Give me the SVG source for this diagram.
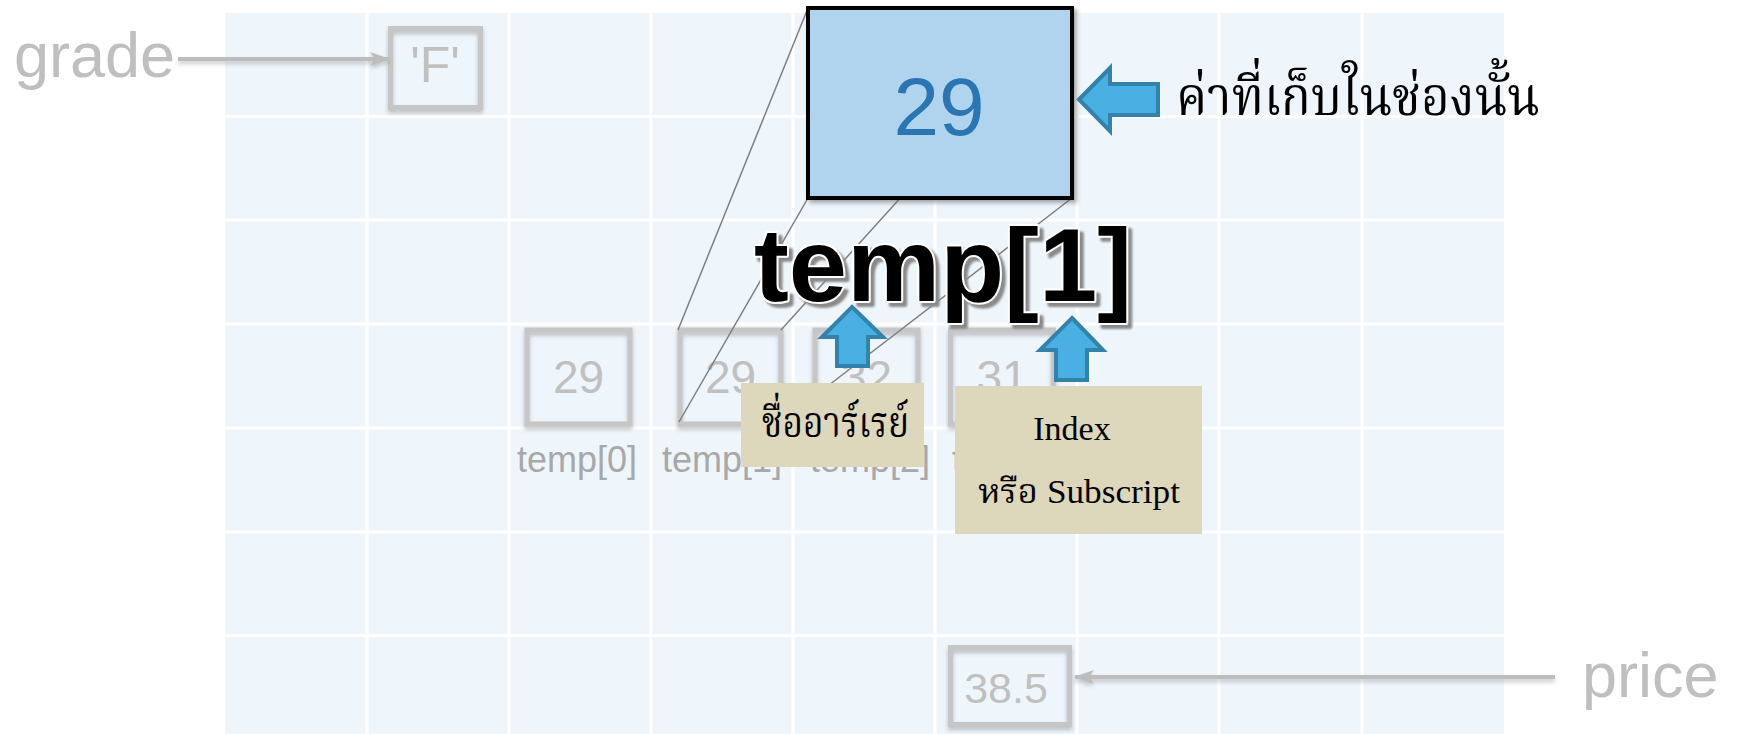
<svg xmlns="http://www.w3.org/2000/svg" width="1741" height="734" viewBox="0 0 1741 734">
<defs>
  <filter id="sh" x="-20%" y="-20%" width="140%" height="150%">
    <feDropShadow dx="0" dy="3" stdDeviation="2" flood-color="#777" flood-opacity="0.45"/>
  </filter>
  <filter id="shb" x="-10%" y="-10%" width="125%" height="125%">
    <feDropShadow dx="3" dy="3" stdDeviation="2" flood-color="#555" flood-opacity="0.5"/>
  </filter>
  <filter id="shl" filterUnits="userSpaceOnUse" x="0" y="0" width="1741" height="734">
    <feDropShadow dx="0" dy="3" stdDeviation="2" flood-color="#777" flood-opacity="0.4"/>
  </filter>
  <filter id="sht" x="-5%" y="-10%" width="115%" height="130%">
    <feGaussianBlur stdDeviation="1"/>
  </filter>
  <marker id="ah" viewBox="0 0 20 14" refX="19" refY="7" markerWidth="20" markerHeight="14" markerUnits="userSpaceOnUse" orient="auto">
    <path d="M0,0 L20,7 L0,14 L5,7 Z" fill="#bdbdbd"/>
  </marker>
  <style>
    .gl{stroke:#ffffff;stroke-width:3}
    .sbox{fill:none;stroke:#c6c6c6;stroke-width:5}
    .num{font-family:"Liberation Sans",Arial,sans-serif;fill:#c0c0c0;text-anchor:middle}
    .lbl{font-family:"Liberation Sans",Arial,sans-serif;fill:#a8a8a8;font-size:36px;text-anchor:middle}
    .var{font-family:"Liberation Sans",Arial,sans-serif;fill:#bfbfbf;font-size:63px}
    .pl{stroke:#7f7f7f;stroke-width:1.5;fill:none}
    .barrow{fill:#4aafe2;stroke:#3282ab;stroke-width:4;stroke-linejoin:miter}
    .tan{fill:#ddd7bb}
    .thai{font-family:"Noto Serif Thai","Noto Sans Thai","Tlwg Typo","Garuda","Loma","Liberation Serif",serif;fill:#000}
    .ser{font-family:"Liberation Serif","Noto Serif Thai","Noto Sans Thai",serif;fill:#000;font-size:34px;text-anchor:middle}
    .conn{stroke:#bdbdbd;stroke-width:4;fill:none}
  </style>
</defs>

<g id="grid">
  <rect x="225" y="13" width="1279" height="721" fill="#eef6fc"/>
  <line class="gl" x1="367" y1="13" x2="367" y2="734"/>
  <line class="gl" x1="509" y1="13" x2="509" y2="734"/>
  <line class="gl" x1="651" y1="13" x2="651" y2="734"/>
  <line class="gl" x1="793" y1="13" x2="793" y2="734"/>
  <line class="gl" x1="935" y1="13" x2="935" y2="734"/>
  <line class="gl" x1="1077" y1="13" x2="1077" y2="734"/>
  <line class="gl" x1="1219" y1="13" x2="1219" y2="734"/>
  <line class="gl" x1="1362" y1="13" x2="1362" y2="734"/>
  <line class="gl" x1="225" y1="116.5" x2="1504" y2="116.5"/>
  <line class="gl" x1="225" y1="220" x2="1504" y2="220"/>
  <line class="gl" x1="225" y1="324" x2="1504" y2="324"/>
  <line class="gl" x1="225" y1="428" x2="1504" y2="428"/>
  <line class="gl" x1="225" y1="532" x2="1504" y2="532"/>
  <line class="gl" x1="225" y1="635.5" x2="1504" y2="635.5"/>
</g>

<g id="grade">
  <text class="var" x="14" y="77">grade</text>
</g>
<g id="gradeBox">
  <rect class="sbox" x="390.5" y="28.5" width="90" height="79" filter="url(#sh)"/>
  <text class="num" x="435" y="82" font-size="50">'F'</text>
</g>

<g id="temp0">
  <rect class="sbox" x="527" y="330" width="103" height="94" filter="url(#sh)"/>
  <text class="num" x="578.5" y="393" font-size="46">29</text>
  <text class="lbl" x="577" y="472">temp[0]</text>
</g>
<g id="temp1">
  <rect class="sbox" x="680" y="330" width="101" height="94" filter="url(#sh)"/>
  <text class="num" x="730.5" y="393" font-size="46">29</text>
  <text class="lbl" x="722" y="472">temp[1]</text>
</g>
<g id="temp2">
  <rect class="sbox" x="815" y="330" width="103" height="94" filter="url(#sh)"/>
  <text class="num" x="866.5" y="393" font-size="46">32</text>
  <text class="lbl" x="870" y="472">temp[2]</text>
</g>
<g id="temp3">
  <rect class="sbox" x="950.5" y="330" width="103" height="94" filter="url(#sh)"/>
  <text class="num" x="1002" y="393" font-size="46">31</text>
  <text class="lbl" x="1012" y="472">temp[3]</text>
</g>

<g id="priceBox">
  <rect class="sbox" x="950.5" y="647.5" width="119" height="77" filter="url(#sh)"/>
  <text class="num" x="1006" y="703" font-size="43">38.5</text>
</g>
<g id="price">
  <text class="var" x="1582" y="697">price</text>
</g>

<g id="connectors">
  <line class="conn" x1="178" y1="59" x2="389" y2="59" marker-end="url(#ah)" filter="url(#shl)"/>
  <line class="conn" x1="1555" y1="677" x2="1075" y2="677" marker-end="url(#ah)" filter="url(#shl)"/>
  <line class="pl" x1="808" y1="8" x2="678" y2="330"/>
  <line class="pl" x1="808" y1="198" x2="679" y2="422"/>
  <line class="pl" x1="1072" y1="8" x2="781" y2="330"/>
  <line class="pl" x1="1072" y1="198" x2="781" y2="422"/>
</g>

<g id="bigBox">
  <rect x="808" y="8" width="264" height="190" fill="#b0d4ee" stroke="#000" stroke-width="4" filter="url(#shb)"/>
  <text x="939" y="135" font-family="Liberation Sans, Arial, sans-serif" font-size="82" fill="#2a75b2" text-anchor="middle">29</text>
</g>

<g id="tempTitle" font-family="Liberation Sans, Arial, sans-serif" font-size="104" font-weight="bold">
  <text x="758" y="305" fill="#8a8a8a" stroke="#8a8a8a" stroke-width="4" stroke-linejoin="round" filter="url(#sht)" textLength="378" lengthAdjust="spacingAndGlyphs">temp[1]</text>
  <text x="754" y="301" fill="#000" stroke="#fff" stroke-width="4" stroke-linejoin="round" paint-order="stroke" textLength="378" lengthAdjust="spacingAndGlyphs">temp[1]</text>
</g>

<g id="valueArrow">
  <polygon class="barrow" points="1079,99.5 1110,68 1110,84 1158,84 1158,115 1110,115 1110,131"/>
</g>
<g id="valueLabel">
  <text class="thai" x="1176" y="115" font-size="54" textLength="364" lengthAdjust="spacingAndGlyphs">ค่าที่เก็บในช่องนั้น</text>
</g>

<g id="nameArrow">
  <polygon class="barrow" points="852,307 883,337 868,337 868,366 837,366 837,337 822,337"/>
</g>
<g id="indexArrow">
  <polygon class="barrow" points="1072,318 1103,350 1087,350 1087,380 1056,380 1056,350 1040,350"/>
</g>

<g id="nameLabel">
  <rect class="tan" x="741" y="383" width="183" height="84"/>
  <text class="thai" x="762" y="437" font-size="42" textLength="147" lengthAdjust="spacingAndGlyphs">ชื่ออาร์เรย์</text>
</g>
<g id="indexLabel">
  <rect class="tan" x="955" y="386" width="247" height="148"/>
  <text class="ser" x="1072" y="440">Index</text>
  <text class="ser" x="1079" y="503" textLength="202" lengthAdjust="spacingAndGlyphs">หรือ Subscript</text>
</g>
</svg>
